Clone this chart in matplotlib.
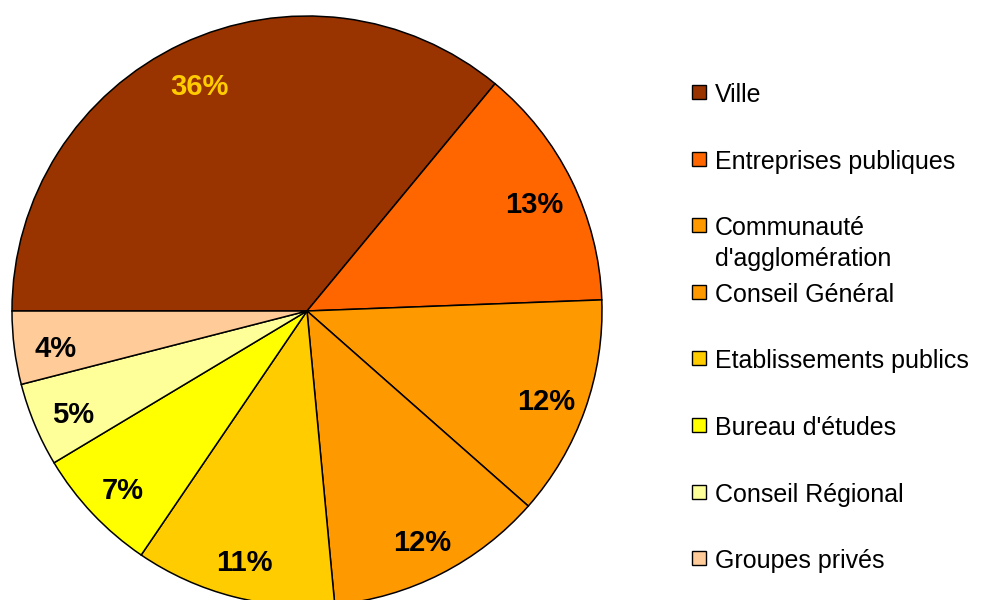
import matplotlib.pyplot as plt

labels = ["Ville", "Entreprises publiques", "Communauté\nd'agglomération",
          "Conseil Général", "Etablissements publics", "Bureau d'études",
          "Conseil Régional", "Groupes privés"]
values = [36.0, 13.4, 12.1, 12.0, 11.0, 6.9, 4.6, 4.0]
colors = ["#993300", "#FF6600", "#FF9900", "#FF9900",
          "#FFCC00", "#FFFF00", "#FFFF99", "#FFCC99"]

plt.rcParams['font.family'] = ['Liberation Sans', 'DejaVu Sans']

W, H = 983, 600
fig = plt.figure(figsize=(W / 100, H / 100), dpi=100)

# pie: centre (307, 311) px, radius 295 px
r = 295
ax = fig.add_axes([(307 - r) / W, (H - 311 - r) / H, 2 * r / W, 2 * r / H])
wedges, texts, autotexts = ax.pie(
    values, colors=colors, startangle=180, counterclock=False,
    autopct='%.0f%%', pctdistance=0.86, radius=1,
    wedgeprops=dict(edgecolor='black', linewidth=1.1),
    textprops=dict(fontsize=21, fontweight='bold', color='black'))
autotexts[0].set_color('#FFCC00')
for t in autotexts:
    x, y = t.get_position()
    t.set_position((x, y - 0.02))
ax.set_xlim(-1, 1)
ax.set_ylim(-1, 1)
ax.set_aspect('equal')
ax.axis('off')

# legend drawn by hand to match the uneven spacing
y0, step = 92, 66.6
for i, (lab, col) in enumerate(zip(labels, colors)):
    yc = y0 + i * step
    fig.patches.append(plt.Rectangle((692 / W, 1 - (yc + 7) / H), 14 / W, 14 / H,
                                     transform=fig.transFigure, facecolor=col,
                                     edgecolor='black', linewidth=1.0))
    fig.text(715 / W, 1 - (yc - 9) / H, lab, fontsize=18, va='top', ha='left',
             linespacing=1.35)

fig.savefig('out.png', dpi=100)
